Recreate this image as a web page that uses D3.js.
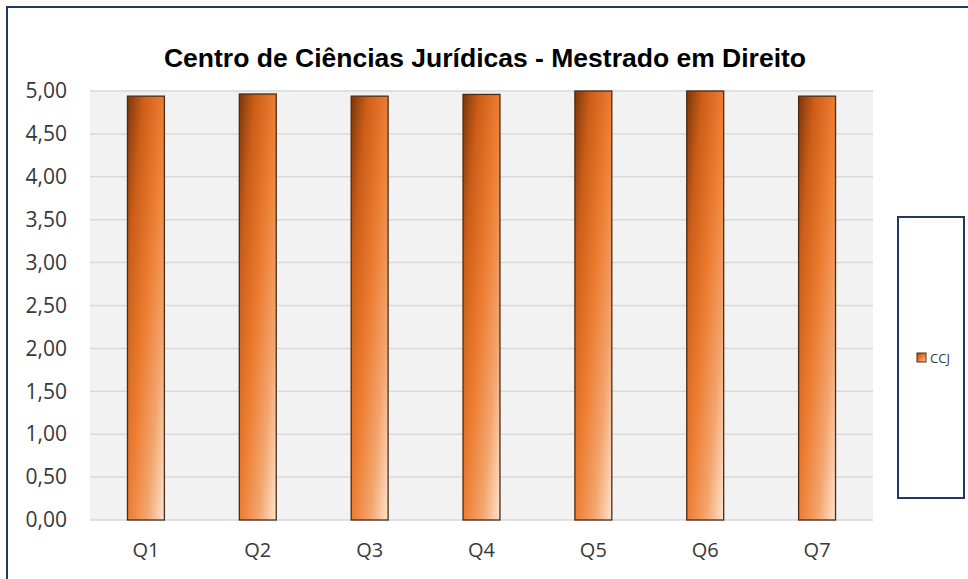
<!DOCTYPE html>
<html lang="pt">
<head>
    <meta charset="UTF-8">
    <title>Centro de Ciências Jurídicas</title>
    <script src="https://d3js.org/d3.v7.min.js"></script>
</head>
<body style="margin:0;background:#fff;">
<style>
    body { overflow: hidden; }
    .tick-label { font-family: "Open Sans", "Noto Sans", sans-serif; fill: #383838; }
</style>
<svg id="chart" width="968" height="579"></svg>
<script>
    // data
    var categories = ["Q1", "Q2", "Q3", "Q4", "Q5", "Q6", "Q7"];
    var ccjValues = [4.94, 4.965, 4.94, 4.96, 5.00, 5.00, 4.94];
    var yTicks = [0, 0.5, 1, 1.5, 2, 2.5, 3, 3.5, 4, 4.5, 5];
    var seriesName = "CCJ";
    var chartTitle = "Centro de Ciências Jurídicas - Mestrado em Direito";

    var svg = d3.select("#chart");

    // gradient for the bars (dark top-left -> pale bottom-right)
    var defs = svg.append("defs");
    var grad = defs.append("linearGradient")
        .attr("id", "barFill")
        .attr("x1", 0).attr("y1", 0).attr("x2", 1).attr("y2", 1);
    grad.append("stop").attr("offset", "0%").attr("stop-color", "#7e360b");
    grad.append("stop").attr("offset", "22%").attr("stop-color", "#cd5e18");
    grad.append("stop").attr("offset", "50%").attr("stop-color", "#ec7d31");
    grad.append("stop").attr("offset", "76%").attr("stop-color", "#f3a56e");
    grad.append("stop").attr("offset", "100%").attr("stop-color", "#fde4d0");

    // outer frame
    svg.append("rect")
        .attr("x", 7).attr("y", 7)
        .attr("width", 1000).attr("height", 1000)
        .attr("fill", "none")
        .attr("stroke", "#1f3864")
        .attr("stroke-width", 2);

    var plot = { left: 90, right: 873, top: 91, bottom: 520 };

    var x = d3.scaleBand()
        .domain(categories)
        .range([plot.left, plot.right])
        .paddingInner(0.67)
        .paddingOuter(0.335);

    var y = d3.scaleLinear()
        .domain([0, 5])
        .range([plot.bottom, plot.top]);

    // plot background
    svg.append("rect")
        .attr("x", plot.left).attr("y", plot.top)
        .attr("width", plot.right - plot.left)
        .attr("height", plot.bottom - plot.top)
        .attr("fill", "#f2f2f2");

    // gridlines
    svg.append("g")
        .selectAll("line")
        .data(yTicks)
        .join("line")
        .attr("x1", plot.left).attr("x2", plot.right)
        .attr("y1", function (d) { return y(d); })
        .attr("y2", function (d) { return y(d); })
        .attr("stroke", "#d9d9d9")
        .attr("stroke-width", 1.5);

    // y axis labels
    var yAxis = d3.axisLeft(y)
        .tickValues(yTicks)
        .tickSize(0)
        .tickPadding(23)
        .tickFormat(function (d) { return d3.format(".2f")(d).replace(".", ","); });
    var yg = svg.append("g")
        .attr("transform", "translate(" + plot.left + ",0)")
        .call(yAxis);
    yg.select(".domain").remove();
    yg.selectAll("text")
        .attr("class", "tick-label")
        .style("font-size", "21px");

    // x axis labels
    var xAxis = d3.axisBottom(x).tickSize(0).tickPadding(18);
    var xg = svg.append("g")
        .attr("transform", "translate(0," + plot.bottom + ")")
        .call(xAxis);
    xg.select(".domain").remove();
    xg.selectAll("text")
        .attr("class", "tick-label")
        .attr("y", 37)
        .attr("dy", 0)
        .style("font-size", "20px");

    // bars
    svg.append("g")
        .selectAll("rect")
        .data(ccjValues)
        .join("rect")
        .attr("x", function (d, i) { return x(categories[i]); })
        .attr("y", function (d) { return y(d); })
        .attr("width", x.bandwidth())
        .attr("height", function (d) { return y(0) - y(d); })
        .attr("fill", "url(#barFill)")
        .attr("stroke", "#4a2c14")
        .attr("stroke-width", 1.3);

    // title
    svg.append("text")
        .attr("x", 485)
        .attr("y", 67)
        .attr("text-anchor", "middle")
        .style("font-family", "'Liberation Sans', Arial, sans-serif")
        .style("font-weight", "bold")
        .style("font-size", "26.5px")
        .style("fill", "#000")
        .text(chartTitle);

    // legend
    var legend = svg.append("g");
    legend.append("rect")
        .attr("x", 898).attr("y", 217)
        .attr("width", 66).attr("height", 281)
        .attr("fill", "#fff")
        .attr("stroke", "#1f3864")
        .attr("stroke-width", 2);
    legend.append("rect")
        .attr("x", 917).attr("y", 353)
        .attr("width", 9).attr("height", 9)
        .attr("fill", "url(#barFill)")
        .attr("stroke", "#4a2c14")
        .attr("stroke-width", 1);
    legend.append("text")
        .attr("x", 930).attr("y", 362.5)
        .attr("class", "tick-label")
        .style("font-size", "13px")
        .text(seriesName);
</script>
</body>
</html>
